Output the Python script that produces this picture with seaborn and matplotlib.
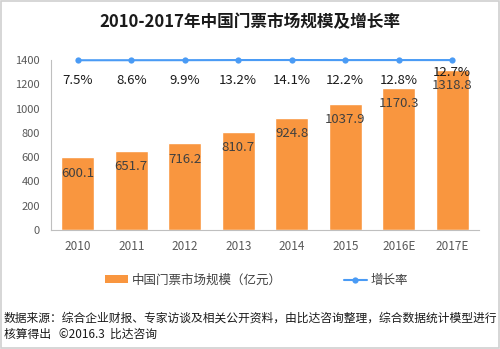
import matplotlib
matplotlib.use("Agg")
import matplotlib.pyplot as plt
import seaborn as sns
import pandas as pd
from matplotlib.lines import Line2D
from matplotlib.patches import Patch, Rectangle

years = ["2010", "2011", "2012", "2013", "2014", "2015", "2016E", "2017E"]
market = [600.1, 651.7, 716.2, 810.7, 924.8, 1037.9, 1170.3, 1318.8]
growth = [7.5, 8.6, 9.9, 13.2, 14.1, 12.2, 12.8, 12.7]
yticks = [0, 200, 400, 600, 800, 1000, 1200, 1400]

sns.set_theme(style="white")
plt.rcParams['font.family'] = ['Noto Sans CJK SC', 'DejaVu Sans']

BAR = '#F9963F'
LINE = '#4A9BF5'
TXT = '#404040'
TICK = '#595959'

fig = plt.figure(figsize=(5.0, 3.49), dpi=100)
ax = fig.add_axes([0.102, 0.341, 0.856, 0.487])

df = pd.DataFrame({"year": years, "market": market, "growth": growth})
sns.barplot(data=df, x="year", y="market", color=BAR, width=0.62,
            saturation=1, ax=ax)

ax.set_ylim(0, 1400)
ax.set_xlim(-0.5, len(years) - 0.5)
ax.set_yticks(yticks)
ax.set_yticklabels([str(v) for v in yticks], fontsize=8, color=TICK)
ax.tick_params(axis='x', labelsize=8.5, colors=TICK, length=0, pad=7)
ax.tick_params(axis='y', length=0, pad=8)
ax.set_xlabel("")
ax.set_ylabel("")
for s in ['top', 'right']:
    ax.spines[s].set_visible(False)
ax.spines['left'].set_color('#BFBFBF')
ax.spines['bottom'].set_color('#BFBFBF')
ax.spines['left'].set_linewidth(0.8)
ax.spines['bottom'].set_linewidth(0.8)

for i, v in enumerate(market):
    ax.annotate(f"{v:.1f}", xy=(i, v), xytext=(0, -11.5), textcoords='offset points',
                ha='center', va='center', fontsize=9.5, color=TXT)

ax2 = ax.twinx()
sns.lineplot(x=list(range(len(years))), y=growth, ax=ax2, color=LINE, lw=1.5,
             marker='o', markersize=4.5, markeredgewidth=0, clip_on=False)
ax2.set_ylim(-5000, max(growth))
ax2.set_yticks([])
for s in ax2.spines.values():
    s.set_visible(False)

label_offsets = [-14.5, -14.5, -14.5, -14.5, -14.5, -14.5, -14.5, -9]
for i, (g, off) in enumerate(zip(growth, label_offsets)):
    ax2.annotate(f"{g}%", xy=(i, g), xytext=(0, off), textcoords='offset points',
                 ha='center', va='center', fontsize=9.5, color='#1a1a1a')

fig.text(0.5, 0.937, "2010-2017年中国门票市场规模及增长率", ha='center', va='center',
         fontsize=12, fontweight='bold', color='#1a1a1a')

handles = [Patch(facecolor=BAR, edgecolor='none'),
           Line2D([0], [0], color=LINE, lw=1.5, marker='o', markersize=4.5, markeredgewidth=0)]
fig.legend(handles, ["中国门票市场规模（亿元）", "增长率"], loc='center',
           bbox_to_anchor=(0.513, 0.197), ncol=2, frameon=False, fontsize=9,
           columnspacing=5.0, handlelength=1.8, handleheight=0.6, handletextpad=0.3,
           labelcolor=TXT)

fig.text(0.008, 0.088, "数据来源：综合企业财报、专家访谈及相关公开资料，由比达咨询整理，综合数据统计模型进行",
         ha='left', va='center', fontsize=8.5, color='#1a1a1a')
fig.text(0.008, 0.043, "核算得出   ©2016.3  比达咨询",
         ha='left', va='center', fontsize=8.5, color='#1a1a1a')

fig.patches.append(Rectangle((0.002, 0.003), 0.996, 0.994, transform=fig.transFigure,
                             fill=False, edgecolor='#D0D0D0', lw=1.2))

fig.savefig("out.png", dpi=100)
